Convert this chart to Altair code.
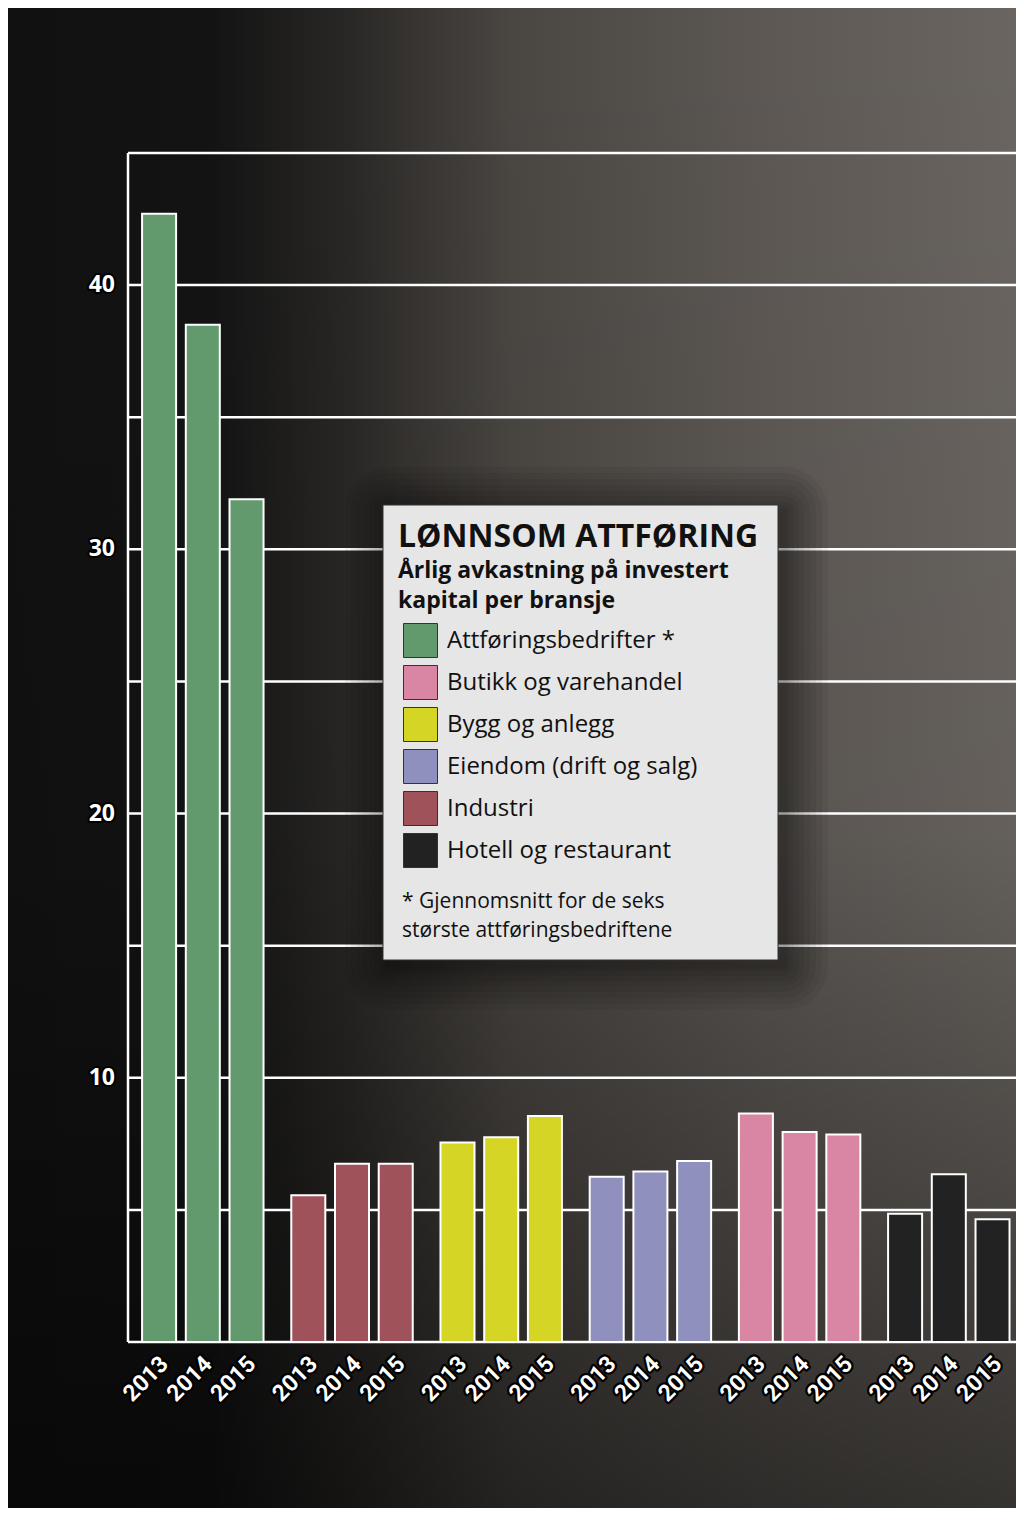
import altair as alt
import pandas as pd

# ---------------- data ----------------
groups = ["Attføringsbedrifter *", "Industri", "Bygg og anlegg",
          "Eiendom (drift og salg)", "Butikk og varehandel", "Hotell og restaurant"]
legend_order = ["Attføringsbedrifter *", "Butikk og varehandel", "Bygg og anlegg",
                "Eiendom (drift og salg)", "Industri", "Hotell og restaurant"]
colors = ["#629a6d", "#d986a4", "#d5d526", "#8f90be", "#a0525b", "#222222"]
years = ["2013", "2014", "2015"]
attforing = [42.7, 38.5, 31.9]
industri = [5.55, 6.75, 6.75]
bygg = [7.55, 7.75, 8.55]
eiendom = [6.25, 6.45, 6.85]
butikk = [8.65, 7.95, 7.85]
hotell = [4.85, 6.35, 4.65]
y_tick_labels = [10, 20, 30, 40]
grid_values = [0, 5, 10, 15, 20, 25, 30, 35, 40, 45]
title_text = "LØNNSOM ATTFØRING"
subtitle_lines = ["Årlig avkastning på investert", "kapital per bransje"]
footnote_lines = ["* Gjennomsnitt for de seks", "største attføringsbedriftene"]

series = [attforing, industri, bygg, eiendom, butikk, hotell]
rows = []
for g, vals in zip(groups, series):
    for yr, v in zip(years, vals):
        rows.append({"group": g, "year": yr, "value": v})
df = pd.DataFrame(rows)

# ---------------- layout ----------------
W, H = 1008, 1500
PX_PER_UNIT = 1189 / 45.0
Y_TOP = 45 + 145 / PX_PER_UNIT
Y_BOT = -(H - 1334) / PX_PER_UNIT
FONT = "Open Sans"
NUMFONT = "Roboto"

yscale = alt.Scale(domain=[Y_BOT, Y_TOP], nice=False, zero=False)
x_enc = alt.X("group:N", sort=None, axis=None,
              scale=alt.Scale(paddingInner=0.186, paddingOuter=0.471, align=0.954, round=False))
xo_enc = alt.XOffset("year:N",
                     scale=alt.Scale(paddingInner=0.222, paddingOuter=0, round=False))

def one():
    return alt.Data(values=[{"k": 0}])

bg = alt.Chart(one()).mark_rect(
    color=alt.LinearGradient(
        gradient="linear", x1=0, x2=1, y1=0, y2=0,
        stops=[alt.GradientStop(offset=0, color="#111111"),
               alt.GradientStop(offset=0.2, color="#131313"),
               alt.GradientStop(offset=0.34, color="#2a2826"),
               alt.GradientStop(offset=0.5, color="#4a4642"),
               alt.GradientStop(offset=0.75, color="#5d5854"),
               alt.GradientStop(offset=1, color="#6a6560")])
).encode(x=alt.value(0), x2=alt.value(W), y=alt.value(0), y2=alt.value(H))

bg_dark = alt.Chart(one()).mark_rect(
    color=alt.LinearGradient(
        gradient="linear", x1=0, x2=0, y1=0, y2=1,
        stops=[alt.GradientStop(offset=0, color="rgba(0,0,0,0)"),
               alt.GradientStop(offset=0.55, color="rgba(0,0,0,0.05)"),
               alt.GradientStop(offset=1, color="rgba(0,0,0,0.5)")])
).encode(x=alt.value(0), x2=alt.value(W), y=alt.value(0), y2=alt.value(H))

grid = alt.Chart(pd.DataFrame({"v": grid_values})).mark_rule(
    color="white", strokeWidth=2.5
).encode(y=alt.Y("v:Q", scale=yscale, axis=None), x=alt.value(120), x2=alt.value(W))

vline = alt.Chart(one()).mark_rule(color="white", strokeWidth=2.5).encode(
    x=alt.value(120), y=alt.Y(datum=45, scale=yscale, axis=None), y2=alt.datum(0))

# legend box with soft shadow
BX1, BX2, BY1, BY2 = 375, 770, 497, 952
shadows = []
for pad in [44, 38, 32, 26, 20, 15, 10, 6, 3]:
    shadows.append(alt.Chart(one()).mark_rect(color="black", opacity=0.05, cornerRadius=pad).encode(
        x=alt.value(BX1 - pad + 6), x2=alt.value(BX2 + pad + 6),
        y=alt.value(BY1 - pad + 6), y2=alt.value(BY2 + pad + 6)))
box = alt.Chart(one()).mark_rect(fill="#e6e6e6", stroke="#333333", strokeWidth=1).encode(
    x=alt.value(BX1), x2=alt.value(BX2), y=alt.value(BY1), y2=alt.value(BY2))

bars = alt.Chart(df).mark_bar(stroke="white", strokeWidth=2, opacity=1).encode(
    x=x_enc, xOffset=xo_enc,
    y=alt.Y("value:Q", scale=yscale, axis=None), y2=alt.datum(0),
    color=alt.Color("group:N", scale=alt.Scale(domain=legend_order, range=colors),
                    legend=alt.Legend(orient="none", legendX=395, legendY=615, title=None,
                                      symbolType="square", symbolSize=1156,
                                      symbolStrokeColor="#333333", symbolStrokeWidth=1,
                                      symbolOpacity=1, labelFont=FONT, labelFontSize=24,
                                      labelColor="#111111", labelOffset=9, rowPadding=3,
                                      padding=0, labelLimit=400)))

year_kw = dict(angle=315, align="right", baseline="middle", dx=-9, dy=17,
               font=NUMFONT, fontSize=23, fontWeight="bold")
year_y = alt.Y(datum=0, scale=yscale, axis=None)
year_halo = alt.Chart(df).mark_text(fill="black", stroke="black", strokeWidth=4.5,
                                    strokeJoin="round", **year_kw).encode(
    x=x_enc, xOffset=xo_enc, y=year_y, text="year:N")
year_txt = alt.Chart(df).mark_text(fill="white", **year_kw).encode(
    x=x_enc, xOffset=xo_enc, y=year_y, text="year:N")

ylab_df = pd.DataFrame({"v": y_tick_labels})
ylab_kw = dict(align="right", baseline="middle", font=FONT, fontSize=23, fontWeight="bold")
ylab_halo = alt.Chart(ylab_df).mark_text(fill="black", stroke="black", strokeWidth=4,
                                         strokeJoin="round", **ylab_kw).encode(
    y=alt.Y("v:Q", scale=yscale, axis=None), x=alt.value(107), text="v:Q")
ylab_txt = alt.Chart(ylab_df).mark_text(fill="white", **ylab_kw).encode(
    y=alt.Y("v:Q", scale=yscale, axis=None), x=alt.value(107), text="v:Q")

def label(txt, x, y, size, bold):
    kw = dict(text=txt, align="left", baseline="alphabetic", font=FONT,
              fontSize=size, color="#111111")
    if bold:
        kw["fontWeight"] = "bold"
    return alt.Chart(one()).mark_text(**kw).encode(x=alt.value(x), y=alt.value(y))

title = label(title_text, 390, 539, 32, True)
sub1 = label(subtitle_lines[0], 390, 570, 23, True)
sub2 = label(subtitle_lines[1], 390, 600, 23, True)
foot1 = label(footnote_lines[0], 394, 900, 21, False)
foot2 = label(footnote_lines[1], 394, 929, 21, False)

chart = alt.layer(
    bg, bg_dark, grid, vline, *shadows, box, bars,
    year_halo, year_txt, ylab_halo, ylab_txt,
    title, sub1, sub2, foot1, foot2
).properties(
    width=W, height=H, padding=0, autosize=alt.AutoSizeParams(type="none")
).configure_view(stroke=None)

chart.save("out.html", embed_options={"renderer": "svg", "actions": False})
